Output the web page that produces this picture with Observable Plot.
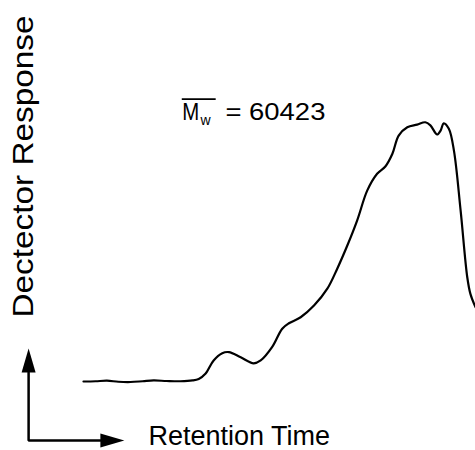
<!DOCTYPE html>
<html>
<head>
<meta charset="utf-8">
<script src="https://cdn.jsdelivr.net/npm/d3@7"></script>
<script src="https://cdn.jsdelivr.net/npm/@observablehq/plot@0.6"></script>
<style>
  html, body { margin: 0; padding: 0; background: white; }
  #chart svg { display: block; }
</style>
</head>
<body>
<div id="chart"></div>
<script>
// Retention time (arbitrary units) and detector response (arbitrary units, peak ≈ 100)
const retentionTime = [0, 3.1, 6.0, 8.9, 12.0, 15.1, 17.9, 21.2, 24.7, 27.8, 29.4, 31.1, 33.2, 35.4, 37.1, 40.1, 43.4, 45.2, 48.1, 50.7, 52.4, 55.4, 58.8, 62.2, 64.7, 67.3, 69.8, 72.4, 74.9, 77.0, 78.8, 80.4, 82.6, 85.1, 87.2, 88.5, 90.2, 91.1, 91.9, 93.2, 94.5, 96.2, 97.9, 98.7, 100];
const detectorResponse = [0, 0.1, 0.3, -0.1, -0.2, 0.1, 0.4, 0.2, 0.1, 0.4, 1.0, 3.0, 8.1, 10.9, 11.3, 9.3, 7.0, 8.1, 13.2, 20.3, 22.4, 24.7, 29.2, 35.7, 43.3, 52.3, 61.9, 73.5, 79.9, 82.7, 87.6, 94.6, 97.8, 98.8, 99.7, 98.5, 95.0, 96.5, 99.3, 97.2, 88.8, 65.8, 40.1, 33.7, 28.6];

// Labels
const xLabel = "Retention Time";
const yLabel = "Dectector Response";
const mwSymbol = "M";
const mwSub = "w";
const mwValue = "= 60423";

const data = retentionTime.map((t, i) => ({t, r: detectorResponse[i]}));

// Axis arrow geometry (data units)
const originT = -14.0, originR = -22.7;
const vTipBaseR = 3.5;   // base of vertical arrowhead
const hTipBaseT = 4.3;   // base of horizontal arrowhead

const arrowHead = {
  draw(context) {
    context.moveTo(0, -24);
    context.lineTo(7, 0);
    context.lineTo(-7, 0);
    context.closePath();
  }
};

const font = "'Liberation Sans', Arial, Helvetica, sans-serif";

const chart = Plot.plot({
  width: 475,
  height: 450,
  margin: 0,
  style: {fontFamily: font, background: "white", color: "black"},
  x: {domain: [-21.17, 100], axis: null},
  y: {domain: [-26.54, 146.54], axis: null},
  marks: [
    // axis arrows
    Plot.line([
      {t: originT, r: vTipBaseR},
      {t: originT, r: originR},
      {t: hTipBaseT, r: originR}
    ], {x: "t", y: "r", stroke: "black", strokeWidth: 2.5, strokeLinejoin: "miter"}),
    Plot.dot([{t: originT, r: vTipBaseR, a: 0}, {t: hTipBaseT, r: originR, a: 90}],
      {x: "t", y: "r", symbol: arrowHead, rotate: "a", fill: "black", stroke: "none"}),
    // chromatogram trace
    Plot.line(data, {x: "t", y: "r", stroke: "black", strokeWidth: 2.2, curve: "catmull-rom"}),
    // axis labels
    Plot.text([xLabel], {frameAnchor: "bottom-left", text: d => d, dx: 148, dy: -14,
      fontSize: 27, textAnchor: "start", lineAnchor: "middle", fill: "black"}),
    Plot.text([yLabel], {frameAnchor: "top-left", text: d => d, dx: 23, dy: 166,
      fontSize: 29, rotate: -90, textAnchor: "middle", lineAnchor: "middle", fill: "black", className: "ylab"}),
    // Mw annotation
    Plot.text([mwSymbol], {x: 25.2, y: 100.4, text: d => d, fontSize: 23, textAnchor: "start", lineAnchor: "bottom", fill: "black", className: "mwsym"}),
    Plot.text([mwSub], {x: 29.85, y: 98.6, text: d => d, fontSize: 14, textAnchor: "start", lineAnchor: "bottom", fill: "black"}),
    Plot.text([mwValue], {x: 36.2, y: 100.4, text: d => d, fontSize: 23, textAnchor: "start", lineAnchor: "bottom", fill: "black", className: "mwval"}),
    Plot.ruleY([108.6], {x1: 25.2, x2: 33.85, stroke: "black", strokeWidth: 1.6})
  ]
});

document.getElementById("chart").appendChild(chart);
d3.select(chart).selectAll(".ylab text").attr("textLength", 302).attr("lengthAdjust", "spacingAndGlyphs");
d3.select(chart).selectAll(".mwval text").attr("textLength", 100).attr("lengthAdjust", "spacingAndGlyphs");
d3.select(chart).selectAll(".mwsym text").attr("textLength", 17).attr("lengthAdjust", "spacingAndGlyphs");
</script>
</body>
</html>
